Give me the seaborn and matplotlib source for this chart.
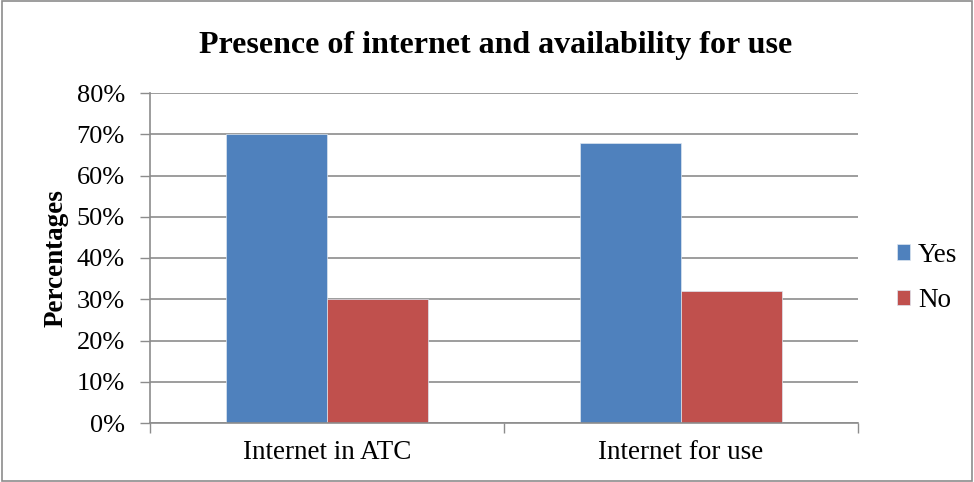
import matplotlib
matplotlib.use("Agg")
import matplotlib.pyplot as plt
import seaborn as sns
import pandas as pd
from matplotlib.patches import Rectangle
from matplotlib.ticker import FuncFormatter, FixedLocator

categories = ["Internet in ATC", "Internet for use"]
series = ["Yes", "No"]
yes_values = [70, 68]
no_values = [30, 32]
yticks = [0, 10, 20, 30, 40, 50, 60, 70, 80]

rows = []
for c, y, n in zip(categories, yes_values, no_values):
    rows.append({"cat": c, "series": "Yes", "val": y})
    rows.append({"cat": c, "series": "No", "val": n})
df = pd.DataFrame(rows)

sns.set_theme(style="white")
plt.rcParams["font.family"] = ["Liberation Serif", "DejaVu Serif"]
for k in ["text.color", "axes.labelcolor", "xtick.color", "ytick.color"]:
    plt.rcParams[k] = "black"

W, H = 974, 482
fig = plt.figure(figsize=(W / 100, H / 100), dpi=100)
ax = fig.add_axes([150 / W, 1 - 423 / H, (858 - 150) / W, (423 - 93) / H])

sns.barplot(data=df, x="cat", y="val", hue="series", hue_order=series,
            palette=["#4F81BD", "#C0504D"], width=0.57, saturation=1,
            edgecolor="#dde6f0", linewidth=0.5, ax=ax, legend=True)

ax.set_ylim(0, 80)
ax.set_xlim(-0.5, 1.5)
ax.set_yticks(yticks)
ax.yaxis.set_major_formatter(FuncFormatter(lambda v, p: f"{int(v)}%"))
ax.grid(axis="y", color="#8c8c8c", linewidth=1.2)
ax.set_axisbelow(True)

ax.xaxis.set_major_locator(FixedLocator([-0.5, 0.5, 1.5]))
ax.xaxis.set_minor_locator(FixedLocator([0, 1]))
ax.set_xticklabels(["", "", ""])
ax.set_xticklabels(categories, minor=True)
ax.tick_params(axis="x", which="major", length=7, width=1, color="#8c8c8c", direction="out", bottom=True)
ax.tick_params(axis="x", which="minor", length=0, labelsize=19.5, pad=12, labelcolor="black")
ax.tick_params(axis="y", length=7, width=1, color="#8c8c8c", direction="out", left=True,
               labelsize=19, pad=11, labelcolor="black")

for s in ["top", "right"]:
    ax.spines[s].set_visible(False)
for s in ["left", "bottom"]:
    ax.spines[s].set_color("#8c8c8c")
    ax.spines[s].set_linewidth(1.2)

ax.set_xlabel("")
ax.set_ylabel("Percentages", fontsize=19.5, fontweight="bold", labelpad=6, color="black")

fig.text(496 / W, 1 - 45 / H, "Presence of internet and availability for use",
         ha="center", va="center", fontsize=23, fontweight="bold", color="black")

leg = ax.legend(loc="center left", bbox_to_anchor=(1.02, 0.44), frameon=False,
                fontsize=19.5, handlelength=0.5, handleheight=0.5, handletextpad=0.3,
                labelspacing=0.75)

fig.patches.append(Rectangle((0.002, 0.002), 0.996, 0.996, transform=fig.transFigure,
                             fill=False, edgecolor="#8c8c8c", linewidth=1.2))

fig.savefig("out.png", dpi=100)
